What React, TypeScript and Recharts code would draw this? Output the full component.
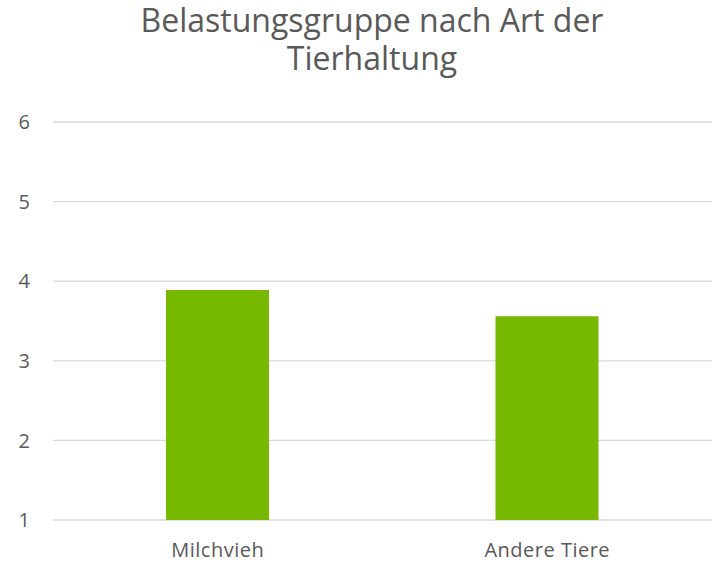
import { BarChart, Bar, XAxis, YAxis, CartesianGrid } from "recharts";

const categories = ["Milchvieh", "Andere Tiere"];
const belastung = [3.89, 3.56];
const yTicks = [1, 2, 3, 4, 5, 6];
const titleLines = ["Belastungsgruppe nach Art der", "Tierhaltung"];

const TEXT = "#595959";
const FONT = "'Open Sans', 'Noto Sans', sans-serif";

export default function App() {
  const data = categories.map((name, i) => ({ name, value: belastung[i] }));

  return (
    <div style={{ position: "absolute", left: 0, top: 0, width: 712, height: 563, background: "#fff", fontFamily: FONT }}>
      {titleLines.map((line, i) => (
        <div
          key={line}
          style={{
            position: "absolute",
            left: 72,
            width: 600,
            top: 3.3 + i * 37.3,
            height: 34,
            textAlign: "center",
            fontSize: 32,
            lineHeight: "34px",
            color: TEXT,
            whiteSpace: "nowrap",
          }}
        >
          {line}
        </div>
      ))}
      <BarChart
        width={712}
        height={563}
        data={data}
        margin={{ top: 122, right: 0, bottom: 0, left: 0 }}
        barCategoryGap="34.3%"
      >
        <CartesianGrid vertical={false} stroke="#d9d9d9" strokeWidth={1.3} />
        <XAxis
          dataKey="name"
          axisLine={false}
          tickLine={false}
          tickSize={0}
          tickMargin={22.5}
          height={43}
          tick={{ fill: TEXT, fontSize: 20, fontFamily: FONT, letterSpacing: 0.5 }}
        />
        <YAxis
          type="number"
          domain={[1, 6]}
          ticks={yTicks}
          allowDataOverflow
          axisLine={false}
          tickLine={false}
          tickSize={0}
          tickMargin={23}
          width={53}
          tick={{ fill: TEXT, fontSize: 20, fontFamily: FONT }}
        />
        <Bar dataKey="value" fill="#77b900" isAnimationActive={false} />
      </BarChart>
    </div>
  );
}
